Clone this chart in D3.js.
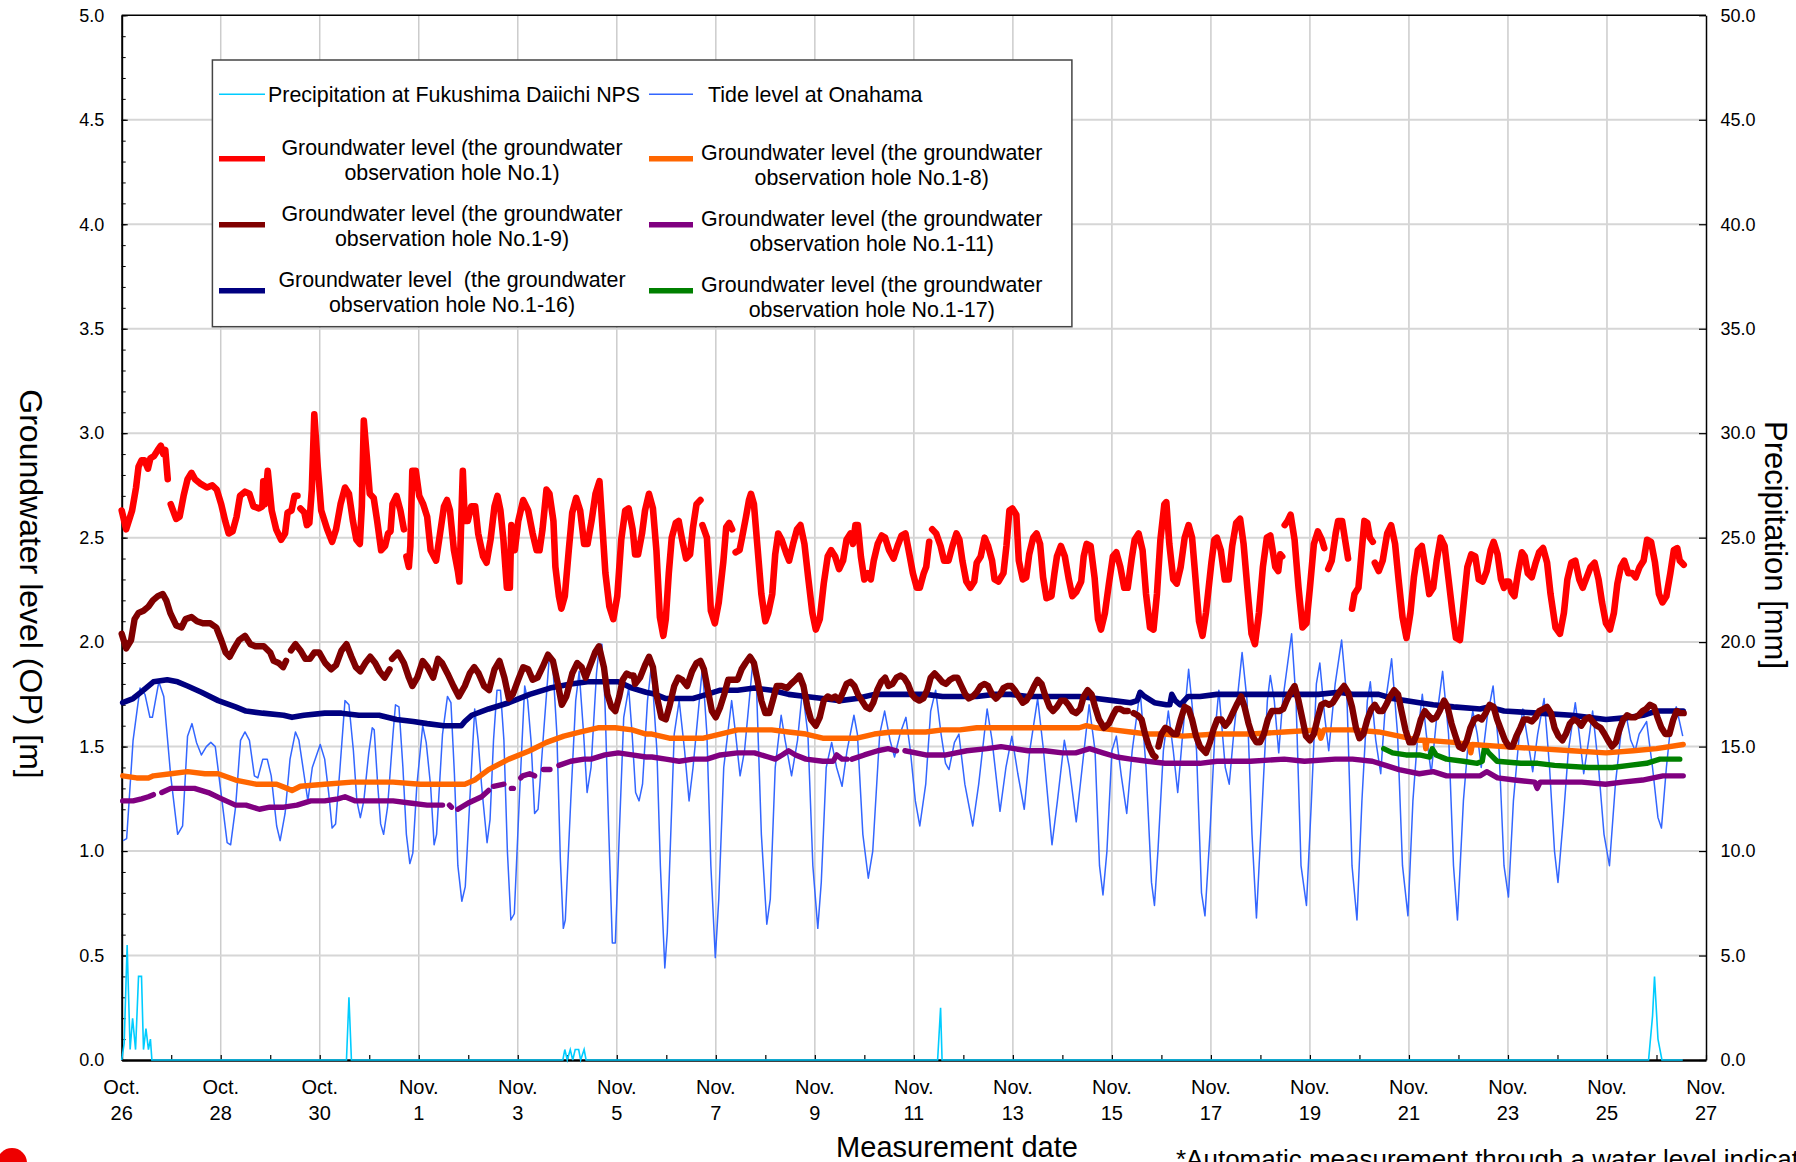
<!DOCTYPE html>
<html>
<head>
<meta charset="utf-8">
<title>Groundwater level, tide level and precipitation</title>
<script src="https://d3js.org/d3.v7.min.js"></script>
<style>
  body { margin: 0; background: #fff; overflow: hidden; }
  svg { display: block; }
  text { font-family: 'Liberation Sans', Arial, sans-serif; fill: #000; white-space: pre; }
</style>
</head>
<body>
<script>
// time is counted in days from Oct. 26 00:00; null marks a break in a record
const dateLabels = ['Oct. 26', 'Oct. 28', 'Oct. 30', 'Nov. 1', 'Nov. 3', 'Nov. 5', 'Nov. 7', 'Nov. 9', 'Nov. 11',
  'Nov. 13', 'Nov. 15', 'Nov. 17', 'Nov. 19', 'Nov. 21', 'Nov. 23', 'Nov. 25', 'Nov. 27'];

// precipitation [mm], right axis
const precipitation = [[0.00,0.0],[0.05,0.8],[0.11,5.5],[0.17,0.5],[0.22,2.0],[0.28,0.5],[0.34,4.0],[0.40,4.0],[0.44,0.5],
  [0.49,1.5],[0.54,0.5],[0.58,1.0],[0.61,0.0],[4.54,0.0],[4.59,3.0],[4.64,0.0],[8.91,0.0],[8.95,0.5],[9.00,0.0],[9.06,0.5],
  [9.11,0.0],[9.16,0.5],[9.23,0.5],[9.27,0.0],[9.34,0.5],[9.38,0.0],[16.48,0.0],[16.54,2.5],[16.57,0.0],[30.84,0.0],
  [30.92,2.1],[30.96,4.0],[31.03,1.0],[31.11,0.0],[31.53,0.0]];

// tide level at Onahama [m]
const tide = [[0.03,1.05],[0.10,1.06],[0.23,1.53],[0.37,1.78],[0.47,1.75],[0.57,1.64],[0.62,1.64],[0.75,1.81],[0.85,1.74],
  [0.99,1.36],[1.13,1.08],[1.23,1.12],[1.33,1.55],[1.42,1.61],[1.51,1.52],[1.61,1.46],[1.71,1.50],[1.80,1.52],[1.89,1.50],
  [1.99,1.31],[2.13,1.04],[2.20,1.03],[2.30,1.21],[2.40,1.53],[2.49,1.57],[2.58,1.53],[2.68,1.36],[2.75,1.35],[2.85,1.44],
  [2.94,1.44],[3.02,1.36],[3.13,1.12],[3.20,1.05],[3.30,1.18],[3.40,1.44],[3.51,1.57],[3.58,1.53],[3.68,1.37],[3.76,1.24],
  [3.85,1.40],[4.01,1.51],[4.10,1.44],[4.18,1.28],[4.25,1.11],[4.32,1.13],[4.41,1.40],[4.51,1.72],[4.59,1.70],[4.68,1.48],
  [4.75,1.24],[4.82,1.16],[4.89,1.24],[4.99,1.47],[5.06,1.59],[5.10,1.58],[5.17,1.32],[5.23,1.13],[5.29,1.08],[5.37,1.21],
  [5.48,1.56],[5.53,1.70],[5.60,1.69],[5.68,1.40],[5.75,1.08],[5.82,0.94],[5.88,0.99],[5.96,1.31],[6.08,1.60],[6.15,1.52],
  [6.24,1.31],[6.31,1.03],[6.36,1.08],[6.48,1.56],[6.58,1.74],[6.65,1.71],[6.72,1.37],[6.79,0.93],[6.87,0.76],[6.94,0.83],
  [7.03,1.24],[7.13,1.68],[7.20,1.53],[7.27,1.31],[7.38,1.04],[7.44,1.15],[7.51,1.53],[7.58,1.77],[7.65,1.77],[7.72,1.53],
  [7.79,1.00],[7.86,0.67],[7.93,0.70],[8.03,1.24],[8.14,1.79],[8.20,1.72],[8.27,1.52],[8.34,1.18],[8.41,1.20],[8.52,1.56],
  [8.64,1.94],[8.71,1.88],[8.79,1.56],[8.86,0.96],[8.92,0.63],[8.96,0.67],[9.07,1.24],[9.17,1.72],[9.24,1.86],[9.33,1.56],
  [9.40,1.28],[9.48,1.40],[9.59,1.85],[9.65,1.99],[9.70,1.99],[9.76,1.72],[9.84,1.08],[9.91,0.56],[9.97,0.56],[10.05,1.08],
  [10.14,1.64],[10.24,1.78],[10.31,1.56],[10.38,1.28],[10.45,1.24],[10.52,1.32],[10.62,1.72],[10.70,1.89],[10.81,1.48],
  [10.88,0.93],[10.97,0.44],[11.02,0.61],[11.09,1.08],[11.16,1.56],[11.26,1.72],[11.37,1.48],[11.46,1.24],[11.54,1.40],
  [11.73,1.88],[11.82,1.56],[11.90,0.93],[11.99,0.49],[12.06,0.77],[12.16,1.40],[12.32,1.72],[12.40,1.56],[12.49,1.36],
  [12.58,1.48],[12.75,1.91],[12.82,1.80],[12.92,1.08],[13.03,0.65],[13.10,0.77],[13.20,1.40],[13.32,1.65],[13.40,1.53],
  [13.53,1.36],[13.65,1.53],[13.75,1.77],[13.86,1.56],[13.96,0.93],[14.06,0.63],[14.13,0.85],[14.23,1.40],[14.34,1.52],
  [14.44,1.40],[14.55,1.31],[14.65,1.48],[14.79,1.65],[14.86,1.56],[14.97,1.08],[15.08,0.87],[15.17,1.00],[15.31,1.56],
  [15.41,1.67],[15.52,1.53],[15.61,1.45],[15.72,1.56],[15.84,1.64],[15.93,1.48],[16.03,1.24],[16.12,1.12],[16.24,1.32],
  [16.34,1.67],[16.44,1.77],[16.55,1.56],[16.64,1.42],[16.71,1.39],[16.82,1.52],[16.91,1.56],[17.03,1.32],[17.19,1.12],
  [17.31,1.32],[17.48,1.68],[17.58,1.53],[17.74,1.19],[17.86,1.40],[17.98,1.55],[18.10,1.37],[18.23,1.20],[18.34,1.48],
  [18.50,1.73],[18.62,1.48],[18.79,1.03],[18.90,1.24],[19.04,1.53],[19.14,1.40],[19.28,1.14],[19.40,1.40],[19.54,1.70],
  [19.66,1.48],[19.75,0.93],[19.82,0.79],[19.90,1.00],[20.00,1.48],[20.09,1.55],[20.19,1.36],[20.30,1.18],[20.41,1.48],
  [20.57,1.77],[20.69,1.40],[20.80,0.85],[20.86,0.74],[20.93,1.00],[21.04,1.48],[21.14,1.67],[21.24,1.48],[21.33,1.28],
  [21.43,1.56],[21.55,1.87],[21.71,1.48],[21.81,0.80],[21.88,0.69],[21.98,1.08],[22.08,1.56],[22.16,1.77],[22.29,1.40],
  [22.37,1.32],[22.46,1.56],[22.63,1.95],[22.73,1.72],[22.83,1.08],[22.92,0.68],[23.04,1.24],[23.14,1.72],[23.20,1.84],
  [23.28,1.72],[23.37,1.47],[23.45,1.72],[23.63,2.04],[23.72,1.72],[23.82,0.93],[23.93,0.74],[24.03,1.24],[24.13,1.80],
  [24.20,1.90],[24.30,1.64],[24.38,1.48],[24.51,1.80],[24.64,2.01],[24.75,1.72],[24.85,0.93],[24.95,0.67],[25.05,1.24],
  [25.16,1.72],[25.22,1.81],[25.33,1.53],[25.43,1.37],[25.53,1.72],[25.65,1.92],[25.77,1.56],[25.87,0.93],[25.98,0.69],
  [26.08,1.24],[26.18,1.56],[26.27,1.75],[26.35,1.56],[26.45,1.37],[26.56,1.64],[26.68,1.86],[26.80,1.56],[26.90,0.93],
  [26.98,0.67],[27.10,1.24],[27.21,1.56],[27.29,1.67],[27.38,1.56],[27.46,1.40],[27.58,1.64],[27.70,1.79],[27.82,1.48],
  [27.92,0.93],[28.01,0.78],[28.11,1.24],[28.23,1.56],[28.30,1.68],[28.40,1.53],[28.50,1.38],[28.60,1.56],[28.73,1.73],
  [28.84,1.40],[28.94,1.00],[29.01,0.85],[29.12,1.16],[29.22,1.48],[29.36,1.71],[29.44,1.56],[29.53,1.37],[29.63,1.53],
  [29.71,1.67],[29.83,1.40],[29.94,1.08],[30.05,0.93],[30.17,1.32],[30.28,1.56],[30.38,1.66],[30.48,1.53],[30.57,1.48],
  [30.65,1.56],[30.80,1.62],[30.92,1.40],[31.03,1.16],[31.10,1.11],[31.20,1.40],[31.30,1.63],[31.40,1.69],[31.53,1.55]];

// groundwater level, observation hole No.1 [m]
const hole1 = [[0.00,2.63],[0.09,2.54],[0.21,2.63],[0.29,2.74],[0.34,2.84],[0.40,2.87],[0.46,2.87],[0.53,2.83],[0.58,2.88],
  [0.65,2.89],[0.73,2.92],[0.79,2.94],[0.84,2.90],[0.88,2.92],[0.93,2.78],[0.96,null],
  [0.99,2.66],[1.10,2.59],[1.17,2.60],[1.25,2.70],[1.33,2.78],[1.41,2.81],[1.48,2.78],[1.58,2.76],[1.72,2.74],[1.83,2.75],
  [1.92,2.73],[2.01,2.66],[2.09,2.58],[2.16,2.52],[2.24,2.53],[2.32,2.60],[2.39,2.70],[2.49,2.72],[2.58,2.71],[2.66,2.65],
  [2.77,2.64],[2.84,2.65],[2.86,2.77],[2.89,2.66],[2.95,2.82],[3.03,2.63],[3.12,2.54],[3.22,2.49],[3.30,2.52],[3.35,2.62],
  [3.43,2.63],[3.49,2.70],[3.55,2.70],[3.58,null],
  [3.61,2.64],[3.69,2.62],[3.74,2.56],[3.79,2.57],[3.84,2.73],[3.89,3.09],[3.96,2.84],[4.03,2.63],[4.15,2.54],[4.25,2.48],
  [4.33,2.54],[4.42,2.66],[4.51,2.74],[4.59,2.71],[4.67,2.58],[4.74,2.49],[4.81,2.47],[4.85,2.65],[4.89,3.06],[4.95,2.89],
  [5.01,2.71],[5.09,2.69],[5.16,2.58],[5.24,2.44],[5.32,2.46],[5.38,2.52],[5.43,2.53],[5.47,2.66],[5.55,2.70],[5.63,2.63],
  [5.70,2.54],[5.72,null],
  [5.75,2.41],[5.80,2.36],[5.83,2.46],[5.87,2.82],[5.94,2.82],[6.01,2.70],[6.09,2.66],[6.17,2.60],[6.24,2.44],[6.35,2.39],
  [6.43,2.52],[6.51,2.65],[6.57,2.68],[6.63,2.63],[6.71,2.44],[6.79,2.34],[6.82,2.29],[6.85,2.52],[6.89,2.82],[6.93,2.58],
  [6.99,2.58],[7.06,2.65],[7.14,2.65],[7.20,2.52],[7.30,2.41],[7.37,2.38],[7.45,2.49],[7.53,2.65],[7.59,2.70],[7.65,2.63],
  [7.71,2.49],[7.78,2.26],[7.84,2.26],[7.87,2.56],[7.94,2.44],[8.01,2.58],[8.11,2.68],[8.21,2.63],[8.30,2.52],[8.38,2.44],
  [8.44,2.44],[8.50,2.54],[8.58,2.73],[8.64,2.71],[8.72,2.58],[8.76,2.36],[8.83,2.22],[8.88,2.16],[8.95,2.22],[9.03,2.44],
  [9.10,2.62],[9.18,2.69],[9.26,2.63],[9.34,2.47],[9.41,2.47],[9.49,2.58],[9.57,2.71],[9.65,2.77],[9.77,2.33],[9.85,2.17],
  [9.93,2.11],[10.01,2.22],[10.09,2.49],[10.17,2.63],[10.24,2.64],[10.32,2.54],[10.37,2.42],[10.43,2.42],[10.51,2.52],
  [10.57,2.63],[10.65,2.71],[10.73,2.64],[10.80,2.44],[10.87,2.12],[10.94,2.03],[10.99,2.11],[11.05,2.33],[11.11,2.50],
  [11.19,2.57],[11.25,2.58],[11.32,2.49],[11.40,2.40],[11.48,2.42],[11.54,2.55],[11.61,2.66],[11.69,2.68],[11.71,null],
  [11.73,2.56],[11.82,2.50],[11.90,2.15],[11.98,2.09],[12.06,2.19],[12.15,2.38],[12.21,2.55],[12.27,2.57],[12.33,2.54],
  [12.36,null],
  [12.40,2.43],[12.48,2.44],[12.53,2.50],[12.61,2.60],[12.67,2.68],[12.71,2.71],[12.77,2.66],[12.84,2.46],[12.92,2.23],
  [13.00,2.10],[13.06,2.14],[13.14,2.23],[13.20,2.42],[13.26,2.52],[13.33,2.49],[13.43,2.42],[13.48,2.39],[13.56,2.47],
  [13.64,2.54],[13.71,2.56],[13.79,2.47],[13.87,2.30],[13.95,2.14],[14.02,2.06],[14.10,2.11],[14.18,2.28],[14.26,2.41],
  [14.33,2.44],[14.41,2.41],[14.49,2.35],[14.57,2.39],[14.64,2.49],[14.72,2.52],[14.77,2.47],[14.82,2.56],[14.87,2.56],
  [14.93,2.41],[15.00,2.30],[15.07,2.33],[15.13,2.30],[15.19,2.39],[15.27,2.47],[15.35,2.51],[15.42,2.50],[15.50,2.44],
  [15.59,2.40],[15.67,2.46],[15.75,2.51],[15.83,2.52],[15.91,2.42],[15.98,2.33],[16.06,2.26],[16.12,2.26],[16.20,2.33],
  [16.25,2.36],[16.31,2.48],[16.34,null],
  [16.37,2.54],[16.45,2.52],[16.54,2.46],[16.61,2.39],[16.70,2.39],[16.78,2.46],[16.86,2.52],[16.92,2.49],[16.98,2.39],
  [17.06,2.29],[17.14,2.26],[17.22,2.29],[17.27,2.38],[17.35,2.41],[17.43,2.50],[17.50,2.46],[17.58,2.39],[17.63,2.30],
  [17.71,2.29],[17.81,2.33],[17.87,2.46],[17.93,2.63],[17.99,2.64],[18.07,2.61],[18.12,2.39],[18.20,2.30],[18.27,2.31],
  [18.33,2.42],[18.41,2.50],[18.48,2.52],[18.55,2.47],[18.61,2.31],[18.68,2.21],[18.78,2.22],[18.84,2.33],[18.89,2.41],
  [18.97,2.46],[19.05,2.41],[19.13,2.30],[19.20,2.22],[19.28,2.24],[19.38,2.29],[19.43,2.41],[19.49,2.47],[19.57,2.46],
  [19.65,2.31],[19.72,2.11],[19.78,2.06],[19.86,2.14],[19.94,2.28],[20.02,2.41],[20.09,2.43],[20.17,2.36],[20.25,2.26],
  [20.32,2.26],[20.40,2.40],[20.46,2.49],[20.54,2.52],[20.62,2.44],[20.69,2.23],[20.77,2.07],[20.84,2.06],[20.91,2.23],
  [20.98,2.49],[21.06,2.66],[21.10,2.67],[21.16,2.47],[21.24,2.30],[21.31,2.28],[21.39,2.36],[21.47,2.50],[21.55,2.56],
  [21.62,2.50],[21.68,2.33],[21.76,2.10],[21.83,2.03],[21.90,2.14],[21.95,2.25],[22.01,2.38],[22.07,2.49],[22.12,2.50],
  [22.20,2.44],[22.28,2.30],[22.36,2.30],[22.43,2.46],[22.51,2.57],[22.59,2.59],[22.66,2.47],[22.74,2.25],[22.82,2.04],
  [22.89,1.99],[22.97,2.14],[23.05,2.36],[23.13,2.50],[23.20,2.51],[23.26,2.42],[23.30,2.36],[23.36,2.34],[23.40,2.42],
  [23.44,2.41],[23.46,null],
  [23.49,2.56],[23.55,2.58],[23.61,2.61],[23.69,2.49],[23.77,2.26],[23.85,2.07],[23.93,2.09],[24.00,2.26],[24.08,2.47],
  [24.16,2.53],[24.24,2.49],[24.29,2.45],[24.33,null],
  [24.37,2.35],[24.44,2.39],[24.52,2.52],[24.57,2.58],[24.65,2.58],[24.73,2.46],[24.77,2.40],[24.81,null],
  [24.85,2.16],[24.90,2.23],[24.98,2.26],[25.04,2.42],[25.10,2.58],[25.16,2.57],[25.21,2.50],[25.27,2.48],[25.29,null],
  [25.31,2.38],[25.39,2.34],[25.47,2.39],[25.56,2.52],[25.64,2.56],[25.72,2.47],[25.79,2.30],[25.87,2.12],[25.95,2.02],
  [26.03,2.14],[26.10,2.31],[26.18,2.44],[26.26,2.46],[26.33,2.36],[26.41,2.23],[26.49,2.26],[26.56,2.39],[26.64,2.50],
  [26.72,2.46],[26.80,2.30],[26.88,2.14],[26.95,2.02],[27.03,2.01],[27.11,2.20],[27.18,2.36],[27.26,2.42],[27.34,2.41],
  [27.41,2.30],[27.49,2.29],[27.57,2.34],[27.65,2.44],[27.71,2.48],[27.79,2.42],[27.86,2.30],[27.92,2.26],[27.96,2.29],
  [28.02,2.29],[28.07,2.24],[28.13,2.22],[28.20,2.33],[28.28,2.43],[28.34,2.41],[28.40,2.33],[28.48,2.31],[28.56,2.38],
  [28.63,2.43],[28.71,2.45],[28.79,2.38],[28.86,2.23],[28.96,2.07],[29.05,2.04],[29.13,2.14],[29.20,2.30],[29.28,2.38],
  [29.36,2.39],[29.44,2.30],[29.51,2.26],[29.59,2.31],[29.67,2.36],[29.75,2.38],[29.83,2.30],[29.90,2.19],[29.98,2.09],
  [30.06,2.06],[30.14,2.14],[30.21,2.28],[30.28,2.36],[30.35,2.39],[30.43,2.33],[30.51,2.33],[30.58,2.31],[30.66,2.36],
  [30.74,2.39],[30.81,2.49],[30.89,2.48],[30.97,2.38],[31.05,2.23],[31.12,2.19],[31.20,2.22],[31.28,2.33],[31.35,2.44],
  [31.42,2.45],[31.47,2.39],[31.55,2.37]];

// observation hole No.1-8 [m]
const hole1_8 = [[0.02,1.36],[0.30,1.35],[0.54,1.35],[0.64,1.36],[0.99,1.37],[1.33,1.38],[1.68,1.37],[1.95,1.37],[2.30,1.34],
  [2.71,1.32],[3.13,1.32],[3.34,1.30],[3.44,1.29],[3.61,1.31],[4.10,1.32],[4.65,1.33],[5.48,1.33],[6.03,1.32],[6.51,1.32],
  [6.93,1.32],[7.13,1.34],[7.41,1.39],[7.82,1.44],[8.24,1.48],[8.58,1.52],[8.93,1.55],[9.27,1.57],[9.62,1.59],[9.97,1.59],
  [10.31,1.58],[10.59,1.56],[10.71,1.56],[11.06,1.54],[11.40,1.54],[11.75,1.54],[12.09,1.56],[12.44,1.58],[12.78,1.58],
  [13.13,1.58],[13.47,1.57],[13.82,1.56],[14.16,1.54],[14.51,1.54],[14.85,1.54],[15.20,1.56],[15.55,1.57],[15.89,1.57],
  [16.24,1.57],[16.58,1.58],[16.93,1.58],[17.27,1.59],[17.62,1.59],[17.96,1.59],[18.31,1.59],[18.65,1.59],[19.00,1.59],
  [19.34,1.59],[19.48,1.60],[19.69,1.59],[20.03,1.58],[20.38,1.57],[20.72,1.56],[21.07,1.56],[21.43,1.55],[22.12,1.56],
  [22.80,1.56],[23.48,1.57],[24.17,1.58],[24.22,1.54],[24.28,1.58],[24.86,1.58],[25.39,1.57],[25.80,1.55],[26.21,1.53],
  [26.32,1.53],[26.34,1.49],[26.37,1.53],[26.90,1.52],[27.22,1.51],[27.25,1.47],[27.28,1.51],[27.92,1.50],[28.61,1.49],
  [29.29,1.48],[29.98,1.47],[30.53,1.48],[31.00,1.49],[31.54,1.51]];

// observation hole No.1-9 [m]
const hole1_9 = [[0.00,2.04],[0.09,1.97],[0.19,2.01],[0.26,2.11],[0.34,2.14],[0.44,2.15],[0.54,2.17],[0.63,2.20],[0.73,2.22],
  [0.83,2.23],[0.90,2.20],[0.98,2.14],[1.10,2.08],[1.21,2.07],[1.29,2.11],[1.41,2.12],[1.52,2.10],[1.64,2.09],[1.79,2.09],
  [1.91,2.07],[2.01,2.01],[2.10,1.95],[2.18,1.93],[2.27,1.97],[2.37,2.01],[2.49,2.03],[2.60,1.99],[2.70,1.98],[2.87,1.98],
  [3.00,1.95],[3.07,1.91],[3.17,1.90],[3.26,1.88],[3.32,1.91],[3.37,null],
  [3.42,1.96],[3.51,1.99],[3.61,1.96],[3.71,1.92],[3.80,1.92],[3.89,1.95],[3.99,1.95],[4.11,1.90],[4.23,1.87],[4.33,1.89],
  [4.44,1.96],[4.54,1.99],[4.64,1.93],[4.73,1.88],[4.82,1.86],[4.92,1.90],[5.02,1.93],[5.12,1.90],[5.21,1.86],[5.31,1.83],
  [5.41,1.87],[5.44,null],
  [5.46,1.92],[5.58,1.95],[5.70,1.90],[5.80,1.83],[5.87,1.79],[5.97,1.83],[6.08,1.91],[6.18,1.88],[6.29,1.83],[6.39,1.92],
  [6.47,1.90],[6.58,1.85],[6.70,1.79],[6.81,1.74],[6.93,1.79],[7.03,1.85],[7.12,1.88],[7.21,1.85],[7.32,1.79],[7.42,1.77],
  [7.53,1.87],[7.63,1.91],[7.73,1.83],[7.82,1.73],[7.90,1.75],[8.01,1.82],[8.11,1.88],[8.21,1.87],[8.30,1.82],[8.40,1.83],
  [8.50,1.88],[8.61,1.94],[8.71,1.91],[8.81,1.80],[8.89,1.70],[8.98,1.74],[9.10,1.85],[9.20,1.90],[9.29,1.88],[9.37,1.83],
  [9.48,1.90],[9.56,1.95],[9.64,1.98],[9.74,1.88],[9.81,1.75],[9.89,1.69],[9.97,1.67],[10.05,1.74],[10.12,1.82],[10.20,1.85],
  [10.28,1.84],[10.34,1.84],[10.37,1.80],[10.47,1.83],[10.57,1.89],[10.65,1.93],[10.73,1.88],[10.80,1.75],[10.90,1.64],
  [10.99,1.63],[11.06,1.69],[11.16,1.79],[11.24,1.83],[11.32,1.82],[11.42,1.79],[11.52,1.86],[11.61,1.90],[11.69,1.91],
  [11.76,1.87],[11.84,1.77],[11.92,1.67],[12.00,1.64],[12.09,1.69],[12.17,1.75],[12.25,1.82],[12.37,1.82],[12.44,1.82],
  [12.52,1.87],[12.60,1.90],[12.69,1.93],[12.77,1.90],[12.84,1.82],[12.92,1.72],[13.00,1.66],[13.08,1.66],[13.15,1.72],
  [13.23,1.79],[13.33,1.79],[13.44,1.78],[13.52,1.80],[13.61,1.82],[13.69,1.84],[13.77,1.79],[13.85,1.69],[13.92,1.63],
  [14.02,1.60],[14.10,1.64],[14.18,1.72],[14.26,1.74],[14.34,1.73],[14.41,1.74],[14.49,1.72],[14.57,1.76],[14.64,1.80],
  [14.72,1.81],[14.80,1.79],[14.87,1.75],[14.95,1.72],[15.03,1.69],[15.11,1.68],[15.18,1.71],[15.26,1.77],[15.34,1.81],
  [15.42,1.83],[15.49,1.79],[15.57,1.80],[15.65,1.83],[15.73,1.84],[15.80,1.83],[15.88,1.80],[15.96,1.75],[16.03,1.73],
  [16.11,1.72],[16.19,1.73],[16.27,1.77],[16.34,1.83],[16.42,1.85],[16.50,1.83],[16.57,1.81],[16.65,1.80],[16.73,1.82],
  [16.81,1.83],[16.88,1.83],[16.96,1.79],[17.04,1.75],[17.11,1.73],[17.19,1.74],[17.27,1.76],[17.35,1.79],[17.43,1.80],
  [17.50,1.79],[17.58,1.75],[17.66,1.73],[17.74,1.75],[17.81,1.78],[17.89,1.79],[17.97,1.79],[18.04,1.77],[18.12,1.74],
  [18.20,1.71],[18.27,1.72],[18.35,1.75],[18.43,1.79],[18.50,1.82],[18.58,1.80],[18.66,1.74],[18.74,1.69],[18.81,1.67],
  [18.89,1.69],[18.97,1.72],[19.05,1.72],[19.12,1.70],[19.20,1.67],[19.28,1.66],[19.36,1.68],[19.43,1.74],[19.51,1.77],
  [19.59,1.75],[19.66,1.69],[19.74,1.63],[19.84,1.59],[19.94,1.61],[20.02,1.65],[20.09,1.68],[20.17,1.68],[20.25,1.67],
  [20.32,1.67],[20.38,null],
  [20.44,1.66],[20.52,1.65],[20.60,1.63],[20.67,1.56],[20.75,1.50],[20.83,1.46],[20.88,1.45],[20.91,null],
  [20.94,1.50],[21.00,1.56],[21.08,1.59],[21.16,1.58],[21.24,1.56],[21.31,1.56],[21.39,1.63],[21.47,1.69],[21.55,1.68],
  [21.62,1.63],[21.70,1.55],[21.78,1.50],[21.90,1.47],[21.98,1.52],[22.05,1.58],[22.13,1.63],[22.21,1.63],[22.29,1.60],
  [22.36,1.62],[22.44,1.66],[22.52,1.70],[22.61,1.74],[22.68,1.69],[22.76,1.61],[22.84,1.55],[22.92,1.52],[22.99,1.52],
  [23.07,1.56],[23.15,1.63],[23.23,1.67],[23.30,1.67],[23.38,1.67],[23.46,1.68],[23.53,1.72],[23.61,1.76],[23.69,1.79],
  [23.77,1.72],[23.85,1.63],[23.92,1.55],[24.00,1.53],[24.08,1.56],[24.15,1.63],[24.23,1.70],[24.31,1.71],[24.39,1.70],
  [24.46,1.71],[24.54,1.74],[24.62,1.77],[24.69,1.79],[24.77,1.76],[24.85,1.69],[24.93,1.59],[25.00,1.54],[25.08,1.56],
  [25.16,1.63],[25.24,1.68],[25.31,1.70],[25.39,1.67],[25.47,1.67],[25.54,1.70],[25.62,1.74],[25.70,1.77],[25.78,1.75],
  [25.85,1.67],[25.93,1.58],[26.01,1.52],[26.09,1.52],[26.16,1.56],[26.24,1.63],[26.32,1.67],[26.39,1.65],[26.47,1.63],
  [26.55,1.64],[26.62,1.67],[26.71,1.72],[26.78,1.69],[26.86,1.61],[26.94,1.55],[27.01,1.50],[27.09,1.49],[27.17,1.53],
  [27.24,1.59],[27.32,1.63],[27.40,1.64],[27.47,1.63],[27.55,1.66],[27.63,1.70],[27.71,1.69],[27.78,1.63],[27.86,1.58],
  [27.94,1.53],[28.02,1.50],[28.09,1.50],[28.17,1.55],[28.25,1.59],[28.32,1.63],[28.40,1.63],[28.48,1.62],[28.56,1.64],
  [28.63,1.67],[28.71,1.68],[28.79,1.69],[28.87,1.66],[28.94,1.59],[29.02,1.55],[29.10,1.53],[29.17,1.56],[29.25,1.61],
  [29.33,1.63],[29.41,1.62],[29.48,1.60],[29.56,1.63],[29.64,1.64],[29.71,1.62],[29.79,1.60],[29.87,1.59],[29.95,1.56],
  [30.02,1.53],[30.10,1.50],[30.18,1.52],[30.25,1.58],[30.33,1.63],[30.41,1.65],[30.49,1.64],[30.56,1.64],[30.64,1.65],
  [30.72,1.67],[30.79,1.68],[30.87,1.70],[30.95,1.69],[31.02,1.64],[31.10,1.59],[31.18,1.56],[31.26,1.56],[31.34,1.63],
  [31.41,1.67],[31.48,1.66],[31.55,1.66]];

// observation hole No.1-11 [m]
const hole1_11 = [[0.02,1.24],[0.23,1.24],[0.40,1.25],[0.54,1.26],[0.64,1.27],[0.72,null],
  [0.81,1.28],[0.99,1.30],[1.20,1.30],[1.47,1.30],[1.75,1.28],[2.02,1.25],[2.30,1.22],[2.51,1.22],[2.78,1.20],[2.99,1.21],
  [3.27,1.21],[3.54,1.22],[3.82,1.24],[4.10,1.24],[4.37,1.25],[4.51,1.26],[4.72,1.24],[5.06,1.24],[5.48,1.24],[5.82,1.23],
  [6.17,1.22],[6.48,1.22],[6.56,null],[6.62,1.22],[6.66,1.21],[6.72,null],
  [6.79,1.20],[7.00,1.23],[7.27,1.26],[7.41,1.29],[7.46,null],[7.51,1.31],[7.72,1.32],[7.80,null],[7.87,1.30],[7.91,1.30],
  [7.98,null],[8.06,1.35],[8.10,1.36],[8.24,1.37],[8.34,1.36],[8.43,null],[8.52,1.39],[8.65,1.39],[8.74,null],
  [8.83,1.41],[9.07,1.43],[9.34,1.44],[9.48,1.44],[9.76,1.46],[10.03,1.47],[10.31,1.46],[10.59,1.45],[10.71,1.45],
  [10.99,1.44],[11.26,1.43],[11.54,1.44],[11.82,1.44],[12.09,1.46],[12.44,1.47],[12.78,1.47],[13.06,1.45],[13.20,1.44],
  [13.34,1.46],[13.47,1.48],[13.61,1.46],[13.82,1.44],[14.16,1.43],[14.37,1.43],[14.44,1.46],[14.55,1.44],[14.65,1.44],
  [14.70,null],[14.75,1.44],[15.00,1.46],[15.27,1.48],[15.48,1.49],[15.65,1.48],[15.73,null],
  [15.82,1.48],[16.24,1.46],[16.65,1.46],[17.07,1.48],[17.48,1.49],[17.76,1.50],[18.03,1.49],[18.31,1.48],[18.65,1.48],
  [19.00,1.47],[19.27,1.47],[19.55,1.49],[19.82,1.47],[20.10,1.45],[20.38,1.44],[20.72,1.43],[21.07,1.42],[21.43,1.42],
  [21.78,1.42],[22.12,1.43],[22.46,1.43],[22.80,1.43],[23.48,1.44],[23.89,1.43],[24.51,1.44],[24.86,1.44],[25.26,1.43],
  [25.53,1.41],[25.80,1.39],[26.21,1.37],[26.49,1.38],[26.76,1.36],[27.24,1.36],[27.44,1.36],[27.57,1.38],[27.79,1.35],
  [28.13,1.34],[28.54,1.33],[28.59,1.30],[28.65,1.33],[28.94,1.33],[29.49,1.33],[29.97,1.32],[30.31,1.33],[30.72,1.34],
  [31.13,1.36],[31.54,1.36]];

// observation hole No.1-16 [m]
const hole1_16 = [[0.02,1.71],[0.23,1.73],[0.44,1.77],[0.64,1.81],[0.92,1.82],[1.13,1.81],[1.33,1.79],[1.61,1.76],[1.95,1.72],
  [2.30,1.69],[2.51,1.67],[2.85,1.66],[3.27,1.65],[3.44,1.64],[3.68,1.65],[4.10,1.66],[4.44,1.66],[4.79,1.65],[5.20,1.65],
  [5.55,1.63],[5.89,1.62],[6.17,1.61],[6.51,1.60],[6.86,1.60],[6.93,1.62],[7.07,1.65],[7.41,1.68],[7.82,1.71],[8.24,1.75],
  [8.65,1.78],[9.07,1.80],[9.41,1.81],[9.76,1.81],[10.03,1.81],[10.31,1.78],[10.59,1.76],[10.78,1.75],[10.99,1.73],
  [11.26,1.73],[11.54,1.73],[11.82,1.75],[12.09,1.77],[12.44,1.77],[12.78,1.78],[13.13,1.77],[13.47,1.75],[13.82,1.74],
  [14.16,1.73],[14.51,1.72],[14.85,1.73],[15.20,1.75],[15.55,1.75],[15.89,1.75],[16.24,1.75],[16.58,1.74],[16.93,1.74],
  [17.27,1.74],[17.62,1.75],[17.96,1.75],[18.31,1.74],[18.65,1.74],[19.00,1.74],[19.34,1.74],[19.69,1.73],[20.03,1.72],
  [20.38,1.71],[20.51,1.72],[20.57,1.76],[20.66,1.74],[20.86,1.71],[21.10,1.70],[21.17,1.70],[21.21,1.75],[21.28,1.72],
  [21.38,1.70],[21.54,1.74],[21.78,1.74],[22.12,1.75],[22.80,1.75],[23.48,1.75],[24.17,1.75],[24.58,1.76],[24.86,1.75],
  [25.39,1.75],[25.67,1.73],[26.21,1.71],[26.49,1.70],[26.90,1.69],[27.44,1.68],[27.61,1.69],[27.92,1.67],[28.61,1.66],
  [29.29,1.65],[29.98,1.63],[30.46,1.64],[30.73,1.65],[31.00,1.67],[31.27,1.67],[31.54,1.67]];

// observation hole No.1-17 [m]
const hole1_17 = [[25.49,1.49],[25.67,1.47],[25.94,1.46],[26.21,1.46],[26.42,1.45],[26.47,1.49],[26.55,1.46],[26.76,1.44],
  [27.10,1.43],[27.38,1.42],[27.48,1.43],[27.53,1.50],[27.61,1.47],[27.78,1.43],[28.26,1.42],[28.60,1.42],[28.94,1.41],
  [29.63,1.40],[30.11,1.40],[30.45,1.41],[30.80,1.42],[31.07,1.44],[31.47,1.44]];

const legendLabels = [
  ['Precipitation at Fukushima Daiichi NPS'],
  ['Tide level at Onahama'],
  ['Groundwater level (the groundwater', 'observation hole No.1)'],
  ['Groundwater level (the groundwater', 'observation hole No.1-8)'],
  ['Groundwater level (the groundwater', 'observation hole No.1-9)'],
  ['Groundwater level (the groundwater', 'observation hole No.1-11)'],
  ['Groundwater level  (the groundwater', 'observation hole No.1-16)'],
  ['Groundwater level (the groundwater', 'observation hole No.1-17)']
];
const legendColors = ['#00ccff', '#3366ff', '#ff0000', '#ff6600', '#800000', '#800080', '#000080', '#008000'];

const width = 1796;
const height = 1162;
const plot = { left: 121.7, right: 1706, top: 15.3, bottom: 1060 };

const svg = d3.select('body').append('svg').attr('width', width).attr('height', height);

const x = d3.scaleLinear().domain([0, 32]).range([plot.left, plot.right]);
const y = d3.scaleLinear().domain([0, 5]).range([plot.bottom, plot.top]);
const y2 = d3.scaleLinear().domain([0, 50]).range([plot.bottom, plot.top]);

// grid
svg.append('g').selectAll('line').data(d3.range(2, 32, 2)).join('line')
  .attr('x1', d => x(d)).attr('x2', d => x(d)).attr('y1', y(5)).attr('y2', y(0))
  .attr('stroke', '#cccccc').attr('stroke-width', 1.5);
svg.append('g').selectAll('line').data(d3.range(0.5, 5, 0.5)).join('line')
  .attr('x1', x(0)).attr('x2', x(32)).attr('y1', d => y(d)).attr('y2', d => y(d))
  .attr('stroke', '#d6d6d6').attr('stroke-width', 2);

// axes
function styleAxis(g, size) {
  g.attr('font-family', null).attr('font-size', size);
  g.selectAll('.tick line').attr('stroke', '#000').attr('stroke-width', 1.2);
  g.select('.domain').attr('stroke', '#000').attr('stroke-width', 2);
}
svg.append('g').attr('transform', `translate(${x(0)},0)`)
  .call(d3.axisLeft(y).tickValues(d3.range(0, 5.01, 0.1)).tickSize(-4).tickFormat(''))
  .call(g => g.select('.domain').remove())
  .selectAll('line').attr('stroke', '#000');
svg.append('g').attr('transform', `translate(${x(0)},0)`)
  .call(d3.axisLeft(y).tickValues(d3.range(0, 5.01, 0.5)).tickFormat(d3.format('.1f'))
    .tickSizeInner(-6).tickSizeOuter(0).tickPadding(17.5))
  .call(g => styleAxis(g, 18));
svg.append('g').attr('transform', `translate(${x(32)},0)`)
  .call(d3.axisRight(y2).tickValues(d3.range(0, 50.1, 5)).tickFormat(d3.format('.1f'))
    .tickSizeInner(-7).tickSizeOuter(0).tickPadding(14.5))
  .call(g => styleAxis(g, 18))
  .call(g => g.select('.domain').attr('stroke-width', 1.5));
svg.append('g').attr('transform', `translate(0,${y(0)})`)
  .call(d3.axisBottom(x).tickValues(d3.range(0, 32.1, 1)).tickFormat('').tickSizeInner(-5).tickSizeOuter(0))
  .call(g => styleAxis(g, 18))
  .call(g => g.select('.domain').attr('stroke-width', 2.5));
svg.append('line').attr('x1', x(0)).attr('x2', x(32)).attr('y1', y(5)).attr('y2', y(5))
  .attr('stroke', '#000').attr('stroke-width', 1.5);

// date labels
const dl = svg.append('g').attr('font-size', 20).attr('text-anchor', 'middle')
  .selectAll('text').data(dateLabels).join('text').attr('y', 1094);
dl.append('tspan').attr('x', (d, i) => x(i * 2)).text(d => d.split(' ')[0]);
dl.append('tspan').attr('x', (d, i) => x(i * 2)).attr('dy', 26).text(d => d.split(' ')[1]);

// series
const line = d3.line().defined(d => d[1] !== null).x(d => x(d[0])).y(d => y(d[1]));
const rainLine = d3.line().x(d => x(d[0])).y(d => y2(d[1]));

svg.append('path').datum(tide).attr('d', line).attr('fill', 'none')
  .attr('stroke', legendColors[1]).attr('stroke-width', 1.5).attr('stroke-linejoin', 'round');
svg.append('path').datum(precipitation).attr('d', rainLine).attr('fill', 'none')
  .attr('stroke', legendColors[0]).attr('stroke-width', 1.6);

const thick = [
  { data: hole1_17, color: legendColors[7], w: 5.4 },
  { data: hole1_11, color: legendColors[5], w: 5.4 },
  { data: hole1_8, color: legendColors[3], w: 5.4 },
  { data: hole1_16, color: legendColors[6], w: 5.6 },
  { data: hole1_9, color: legendColors[4], w: 6.4 },
  { data: hole1, color: legendColors[2], w: 6.6 }
];
svg.append('g').selectAll('path').data(thick).join('path')
  .attr('d', d => line(d.data)).attr('fill', 'none')
  .attr('stroke', d => d.color).attr('stroke-width', d => d.w)
  .attr('stroke-linejoin', 'round').attr('stroke-linecap', 'round');

// legend
const lg = svg.append('g');
lg.append('rect').attr('x', 212.4).attr('y', 60).attr('width', 859.5).attr('height', 266.7)
  .attr('fill', '#fff').attr('stroke', '#444').attr('stroke-width', 1.5);
const rowY = [94.3, 158.7, 224.7, 290.7];
legendLabels.forEach((lines, i) => {
  const col = i % 2;
  const row = Math.floor(i / 2);
  const sy = rowY[row];
  const sx = col === 0 ? [219, 265] : [649, 693];
  lg.append('line').attr('x1', sx[0]).attr('x2', sx[1]).attr('y1', sy).attr('y2', sy)
    .attr('stroke', legendColors[i]).attr('stroke-width', row === 0 ? 1.6 : 5.4);
  if (row === 0) {
    lg.append('text').attr('x', col === 0 ? 268 : 708).attr('y', sy + 7.5).attr('font-size', 21.4).text(lines[0]);
  } else {
    const cx = col === 0 ? 452 : 871.7;
    const top = col === 0 ? sy - 11.5 : sy - 6.5;
    lines.forEach((t, k) => {
      lg.append('text').attr('x', cx).attr('y', top + k * 25.7 + 7.5).attr('text-anchor', 'middle')
        .attr('font-size', 21.4).text(t);
    });
  }
});

// titles
svg.append('text').attr('transform', 'translate(20,584) rotate(90)').attr('text-anchor', 'middle')
  .attr('font-size', 32).text('Groundwater level (OP) [m]');
svg.append('text').attr('transform', 'translate(1765,545) rotate(90)').attr('text-anchor', 'middle')
  .attr('font-size', 31).text('Precipitation [mm]');
svg.append('text').attr('x', 957).attr('y', 1157).attr('text-anchor', 'middle')
  .attr('font-size', 29).text('Measurement date');
svg.append('text').attr('x', 1176).attr('y', 1167.5).attr('font-size', 26)
  .text('*Automatic measurement through a water level indicator');
svg.append('circle').attr('cx', 12).attr('cy', 1163).attr('r', 15).attr('fill', '#ee0000');
</script>
</body>
</html>
